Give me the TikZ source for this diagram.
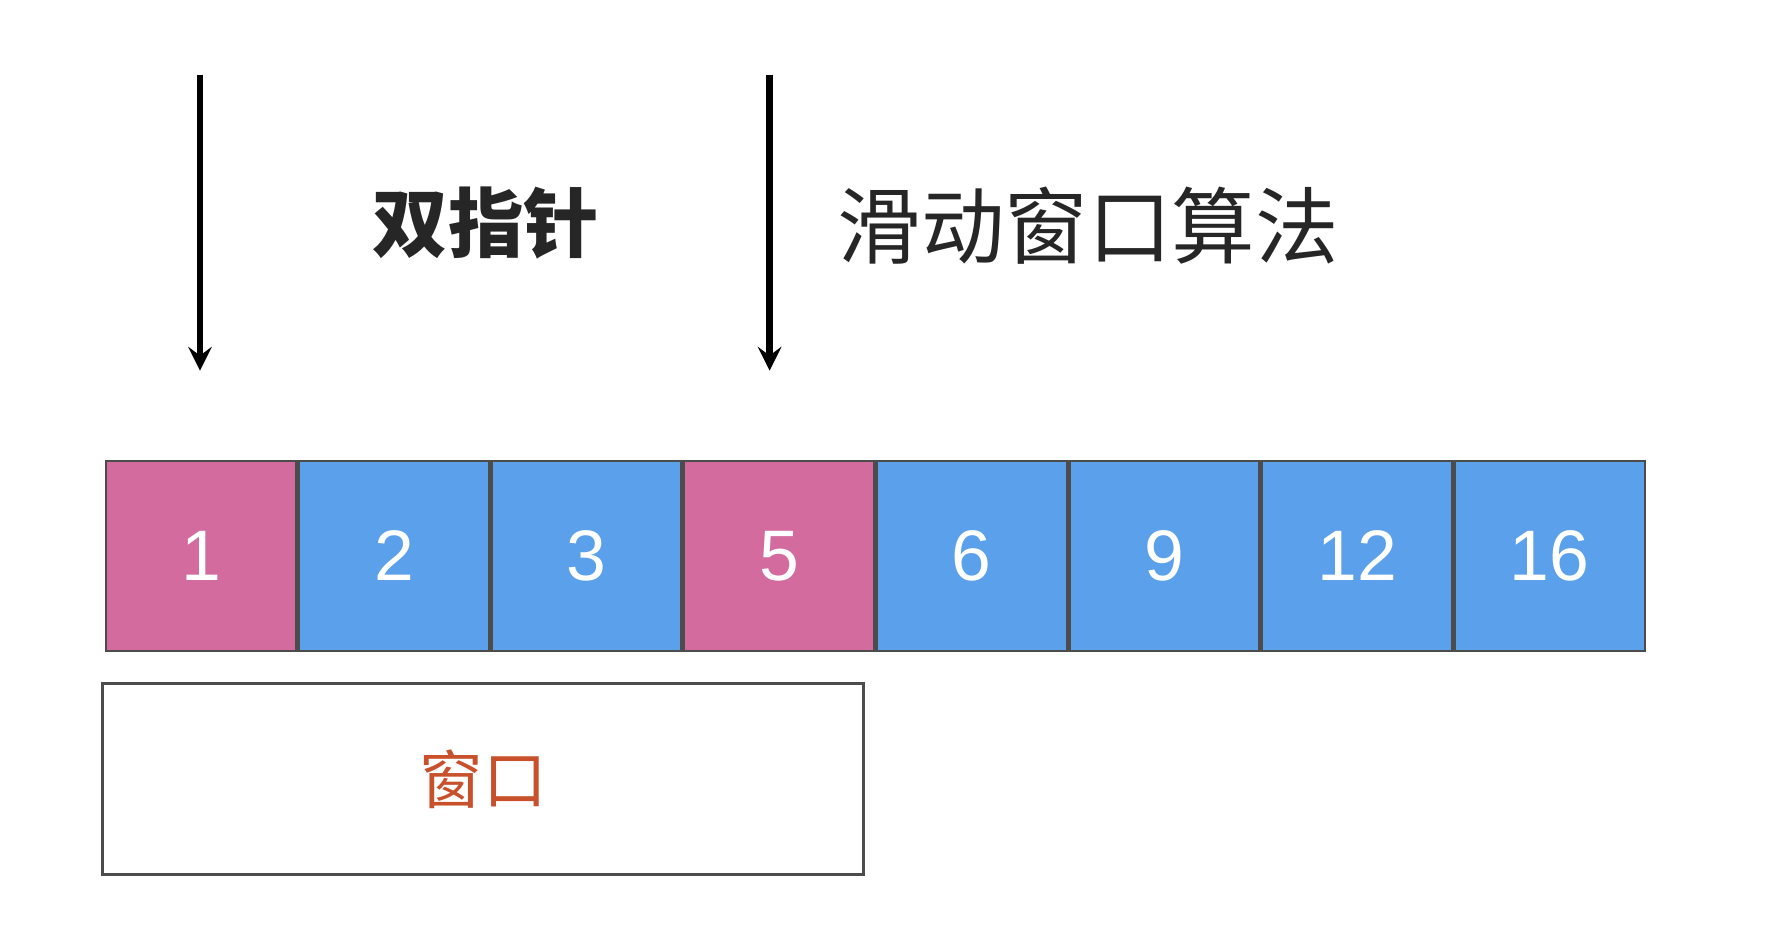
\documentclass[tikz,border=0pt]{standalone}
\usepackage{fontspec}
\setmainfont{Liberation Sans}
\newfontfamily\cjk{Noto Sans CJK SC}
\usetikzlibrary{positioning}
\definecolor{cellpink}{HTML}{D36B9E}
\definecolor{cellblue}{HTML}{5BA0EA}
\definecolor{wintext}{HTML}{C8502A}

\begin{document}
\begin{tikzpicture}[x=0.01cm, y=-0.01cm,
cell_box/.style={rectangle, draw=black!70, line width=0.6pt, minimum width=1.6825cm, minimum height=1.68cm, inner sep=0pt, text=white, font=\fontsize{18}{18}\selectfont},
pink_cell/.style={cell_box, fill=cellpink},
blue_cell/.style={cell_box, fill=cellblue},
window_box/.style={rectangle, draw=black!70, line width=0.8pt, minimum width=6.73cm, minimum height=1.69cm, inner sep=0pt},
down_arrow/.style={->, line width=1.6pt, >=stealth},
title_text/.style={font=\cjk\bfseries\fontsize{19}{19}\selectfont, text=black!85}
]
\useasboundingbox (0,0) rectangle (1568,838);

% cells
\node[pink_cell](c1) at (178.1,492) {1};
\node[blue_cell](c2)[right=0 of c1] {2};
\node[blue_cell](c3)[right=0 of c2] {3};
\node[pink_cell](c5)[right=0 of c3] {5};
\node[blue_cell](c6)[right=0 of c5] {6};
\node[blue_cell](c9)[right=0 of c6] {9};
\node[blue_cell](c12)[right=0 of c9] {12};
\node[blue_cell](c16)[right=0 of c12] {16};

% window
\node[window_box, text=wintext, font=\cjk\fontsize{16}{16}\selectfont](window) at (427.5,689.5) {窗口};

% pointers
\coordinate (left_top) at (177,66);
\coordinate (left_tip) at (177,328);
\coordinate (right_top) at (681,66);
\coordinate (right_tip) at (681,328);
\draw[down_arrow](left_top) -- (left_tip);
\draw[down_arrow](right_top) -- (right_tip);

\node[title_text](two_pointer) at (430,197) {双指针};
\node[title_text, font=\cjk\fontsize{21}{21}\selectfont](sliding) at (963,200) {滑动窗口算法};

\end{tikzpicture}
\end{document}
